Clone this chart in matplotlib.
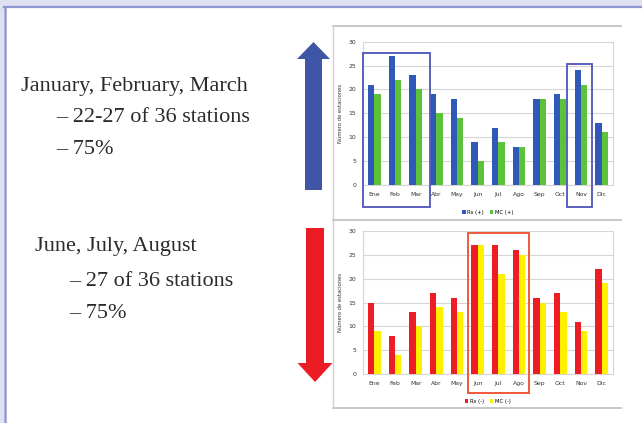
import numpy as np
import matplotlib.pyplot as plt
from matplotlib.patches import Rectangle, FancyArrow
import matplotlib.transforms as mtransforms

# ---- data ----
months = ["Ene", "Feb", "Mar", "Abr", "May", "Jun", "Jul", "Ago", "Sep", "Oct", "Nov", "Dic"]
rs_pos = [21, 27, 23, 19, 18, 9, 12, 8, 18, 19, 24, 13]
mc_pos = [19, 22, 20, 15, 14, 5, 9, 8, 18, 18, 21, 11]
rs_neg = [15, 8, 13, 17, 16, 27, 27, 26, 16, 17, 11, 22]
mc_neg = [9, 4, 10, 14, 13, 27, 21, 25, 15, 13, 9, 19]
yticks = [0, 5, 10, 15, 20, 25, 30]

W, H = 642, 423
fig = plt.figure(figsize=(W / 100, H / 100), dpi=100)
fig.patch.set_facecolor("white")

# background / slide frame, in pixel coords
bg = fig.add_axes([0, 0, 1, 1])
bg.set_xlim(0, W)
bg.set_ylim(H, 0)
bg.axis("off")
bg.add_patch(Rectangle((0, 0), W, 8, color="#dfe1f1", lw=0))
bg.add_patch(Rectangle((0, 0), 4, H, color="#dfe1f1", lw=0))
bg.plot([4, W], [7.5, 7.5], color="#8e99d3", lw=1.6)
bg.plot([4.5, 4.5], [7.5, H], color="#8e99d3", lw=1.8)

# chart frame lines
bg.plot([333, 621], [26, 26], color="#bdbdbd", lw=1.2)
bg.plot([333, 621], [220, 220], color="#bdbdbd", lw=1.2)
bg.plot([333, 621], [408, 408], color="#bdbdbd", lw=1.2)
bg.plot([333, 333], [26, 408], color="#d0d0d0", lw=1.0)

# arrows
bg.add_patch(FancyArrow(313.5, 190, 0, -148, width=17, head_width=33,
                        head_length=17, length_includes_head=True,
                        color="#3f55a6", lw=0))
bg.add_patch(FancyArrow(315, 228, 0, 154, width=18, head_width=35,
                        head_length=19, length_includes_head=True,
                        color="#ec1c24", lw=0))

# text
serif = ["Liberation Serif", "DejaVu Serif"]
tc = "#2b2b2b"
fs = 16
bg.text(21, 86, "January, February, March", fontsize=fs, family=serif, color=tc, va="center")
bg.text(56, 117, "– 22-27 of 36 stations", fontsize=fs, family=serif, color=tc, va="center")
bg.text(56, 150, "– 75%", fontsize=fs, family=serif, color=tc, va="center")
bg.text(35, 247, "June, July, August", fontsize=fs, family=serif, color=tc, va="center")
bg.text(69, 282, "– 27 of 36 stations", fontsize=fs, family=serif, color=tc, va="center")
bg.text(69, 314, "– 75%", fontsize=fs, family=serif, color=tc, va="center")


def bar_chart(rect, a, b, ca, cb, la, lb):
    ax = fig.add_axes(rect)
    x = np.arange(len(months))
    ax.bar(x - 0.15, a, width=0.3, color=ca, label=la, zorder=3)
    ax.bar(x + 0.15, b, width=0.3, color=cb, label=lb, zorder=3)
    ax.set_xlim(-0.55, 11.55)
    ax.set_ylim(0, 30)
    ax.set_yticks(yticks)
    ax.set_xticks(x)
    ax.set_xticklabels(months, fontsize=4.4, color="#333333")
    ax.tick_params(axis="y", labelsize=4.4, length=0, pad=5, colors="#333333")
    ax.tick_params(axis="x", length=0, pad=5)
    ax.grid(axis="y", color="#d6d6d6", lw=0.8, zorder=0)
    for s in ax.spines.values():
        s.set_color("#d6d6d6")
        s.set_linewidth(0.8)
    ax.spines["top"].set_visible(False)
    ax.set_ylabel("Número de estaciones", fontsize=3.8, labelpad=4, color="#333333")
    ax.legend(loc="upper center", bbox_to_anchor=(0.5, -0.14), ncol=2, fontsize=3.8,
              frameon=False, handlelength=0.6, handleheight=0.6, columnspacing=1.2,
              handletextpad=0.3)
    return ax


ax1 = bar_chart([363 / W, 1 - 185 / H, 250 / W, 143.3 / H], rs_pos, mc_pos,
                "#2f58b8", "#5cc23a", "Rs (+)", "MC (+)")
ax2 = bar_chart([363 / W, 1 - 374 / H, 250 / W, 143 / H], rs_neg, mc_neg,
                "#ee1c24", "#fff000", "Rs (-)", "MC (-)")

# highlight boxes (x in data, y in axes fraction)
tr1 = mtransforms.blended_transform_factory(ax1.transData, ax1.transAxes)
ax1.add_patch(Rectangle((-0.55, -0.154), 3.25, 1.075, transform=tr1, fill=False,
                        ec="#5a5fc0", lw=1.4, clip_on=False, zorder=5))
ax1.add_patch(Rectangle((9.3, -0.154), 1.25, 1.0, transform=tr1, fill=False,
                        ec="#5a5fc0", lw=1.4, clip_on=False, zorder=5))
tr2 = mtransforms.blended_transform_factory(ax2.transData, ax2.transAxes)
ax2.add_patch(Rectangle((4.55, -0.133), 2.92, 1.12, transform=tr2, fill=False,
                        ec="#f05a3a", lw=1.4, clip_on=False, zorder=5))

fig.savefig("out.png", dpi=100)
